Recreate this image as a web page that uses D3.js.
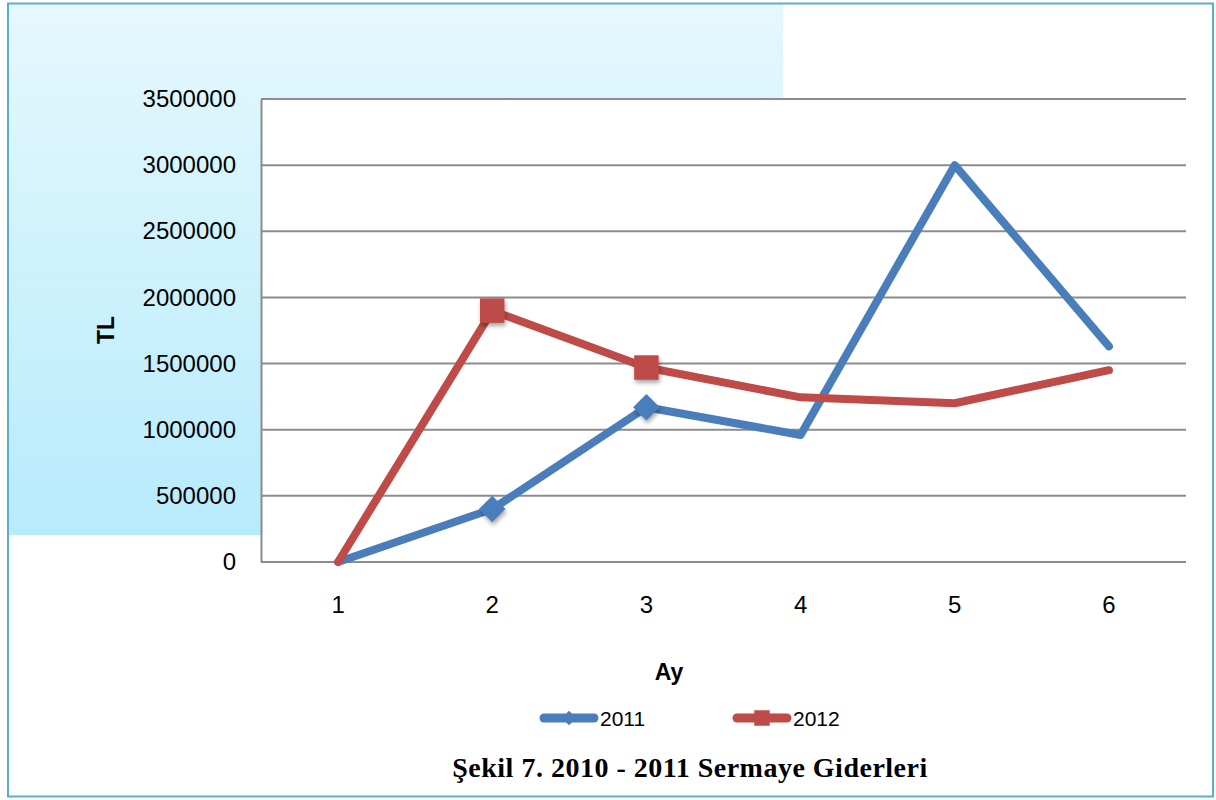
<!DOCTYPE html>
<html>
<head>
<meta charset="utf-8">
<script src="https://cdn.jsdelivr.net/npm/d3@7"></script>
<style>
  body { margin: 0; background: #fff; }
  svg { display: block; }
</style>
</head>
<body>
<svg width="1216" height="800"></svg>
<script>
// data
var months = ["1", "2", "3", "4", "5", "6"];
var values2011 = [0, 400000, 1170000, 960000, 3000000, 1630000];
var values2012 = [0, 1900000, 1470000, 1245000, 1200000, 1450000];
var yTicks = [0, 500000, 1000000, 1500000, 2000000, 2500000, 3000000, 3500000];
var seriesNames = ["2011", "2012"];
// markers only drawn on the first points, like the original
var markerShown = [false, true, true, false, false, false];

var width = 1216, height = 800;
var margin = {left: 261, right: 30, top: 99, bottom: 238};
var font = "'Liberation Sans', Arial, sans-serif";

var svg = d3.select("svg");

// background gradient panel + marker shadow
var defs = svg.append("defs");
var grad = defs.append("linearGradient")
  .attr("id", "bg")
  .attr("x1", 0).attr("y1", 0).attr("x2", 0).attr("y2", 1);
grad.append("stop").attr("offset", "0%").attr("stop-color", "#e5f8fd");
grad.append("stop").attr("offset", "100%").attr("stop-color", "#b7ebfc");

var shadow = defs.append("filter").attr("id", "shadow")
  .attr("x", "-50%").attr("y", "-50%").attr("width", "200%").attr("height", "200%");
shadow.append("feDropShadow")
  .attr("dx", 1).attr("dy", 3).attr("stdDeviation", 2)
  .attr("flood-color", "#000").attr("flood-opacity", 0.35);

svg.append("rect")
  .attr("x", 8).attr("y", 4)
  .attr("width", 775).attr("height", 531)
  .attr("fill", "url(#bg)");

// outer frame
svg.append("rect")
  .attr("x", 8).attr("y", 3.5)
  .attr("width", 1205).attr("height", 793)
  .attr("fill", "none")
  .attr("stroke", "#5aafc8")
  .attr("stroke-width", 2);

//scales
var x = d3.scaleBand()
  .domain(months)
  .range([margin.left, width - margin.right]);
var y = d3.scaleLinear()
  .domain([0, 3500000])
  .range([height - margin.bottom, margin.top]);

// plot area
svg.append("rect")
  .attr("x", margin.left).attr("y", margin.top)
  .attr("width", x.range()[1] - margin.left)
  .attr("height", y(0) - margin.top)
  .attr("fill", "#fff");

// gridlines
svg.append("g")
  .selectAll("line")
  .data(yTicks)
  .enter().append("line")
  .attr("x1", margin.left).attr("x2", x.range()[1])
  .attr("y1", function(d) { return y(d); })
  .attr("y2", function(d) { return y(d); })
  .attr("stroke", "#8c8c8c")
  .attr("stroke-width", 2);

// y axis
var yAxis = svg.append("g")
  .attr("transform", "translate(" + margin.left + ",0)")
  .call(d3.axisLeft(y).tickValues(yTicks).tickFormat(d3.format("d")).tickSize(0).tickPadding(25));
yAxis.select(".domain").attr("stroke", "#8c8c8c").attr("stroke-width", 2);
yAxis.selectAll("text")
  .style("font-family", font)
  .style("font-size", "24px")
  .attr("fill", "#000");

// x axis
var xAxis = svg.append("g")
  .attr("transform", "translate(0," + y(0) + ")")
  .call(d3.axisBottom(x).tickSize(0).tickPadding(34));
xAxis.select(".domain").remove();
xAxis.selectAll("text")
  .style("font-family", font)
  .style("font-size", "24px")
  .attr("fill", "#000");

// axis titles
svg.append("text")
  .attr("x", 669).attr("y", 680)
  .attr("text-anchor", "middle")
  .style("font-family", font)
  .style("font-size", "23px")
  .style("font-weight", "bold")
  .text("Ay");
svg.append("text")
  .attr("transform", "translate(114,330) rotate(-90)")
  .attr("text-anchor", "middle")
  .style("font-family", font)
  .style("font-size", "23px")
  .style("font-weight", "bold")
  .text("TL");

// lines
var colors = ["#4a7ebb", "#be4b48"];
var series = [values2011, values2012];
var line = d3.line()
  .x(function(d, i) { return x(months[i]) + x.bandwidth() / 2; })
  .y(function(d) { return y(d); });

series.forEach(function(vals, s) {
  svg.append("path")
    .datum(vals)
    .attr("fill", "none")
    .attr("stroke", colors[s])
    .attr("stroke-width", 8)
    .attr("stroke-linejoin", "round")
    .attr("stroke-linecap", "round")
    .attr("d", line);
  var sym = d3.symbol().type(s == 0 ? d3.symbolDiamond2 : d3.symbolSquare).size(s == 0 ? 450 : 600);
  var pts = vals.map(function(d, i) { return {v: d, i: i}; })
    .filter(function(p) { return markerShown[p.i]; });
  svg.append("g")
    .selectAll("path")
    .data(pts)
    .enter().append("path")
    .attr("d", sym)
    .attr("fill", colors[s])
    .attr("filter", "url(#shadow)")
    .attr("transform", function(p) {
      return "translate(" + (x(months[p.i]) + x.bandwidth() / 2) + "," + y(p.v) + ")";
    });
});

// legend
var legendX = [540, 733];
var legend = svg.append("g")
  .selectAll("g")
  .data(seriesNames)
  .enter().append("g")
  .attr("transform", function(d, i) { return "translate(" + legendX[i] + ",718)"; });
legend.append("line")
  .attr("x1", 4).attr("x2", 54)
  .attr("stroke", function(d, i) { return colors[i]; })
  .attr("stroke-width", 9)
  .attr("stroke-linecap", "round");
legend.append("path")
  .attr("d", function(d, i) {
    return d3.symbol().type(i == 0 ? d3.symbolDiamond2 : d3.symbolSquare).size(i == 0 ? 130 : 240)();
  })
  .attr("transform", "translate(29,0)")
  .attr("fill", function(d, i) { return colors[i]; });
legend.append("text")
  .attr("x", 60)
  .attr("y", 8)
  .style("font-family", font)
  .style("font-size", "21px")
  .text(function(d) { return d; });

// caption
svg.append("text")
  .attr("x", 690).attr("y", 777)
  .attr("text-anchor", "middle")
  .style("font-family", "'Liberation Serif', 'Times New Roman', serif")
  .style("font-size", "28px")
  .style("font-weight", "bold")
  .style("letter-spacing", "0.5px")
  .text("Şekil 7. 2010 - 2011 Sermaye Giderleri");
</script>
</body>
</html>
